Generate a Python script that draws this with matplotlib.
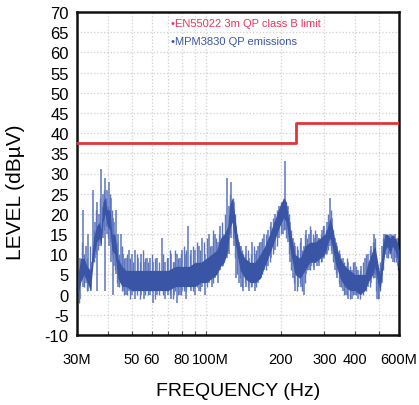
import matplotlib
matplotlib.use("Agg")
import matplotlib.pyplot as plt
import matplotlib.transforms as mtransforms
from matplotlib.ticker import FixedLocator, FixedFormatter, NullFormatter

plt.rcParams['font.family'] = ['Liberation Sans', 'DejaVu Sans']
plt.rcParams['axes.unicode_minus'] = False

# Limit line (EN55022 3m QP class B)
limit_freq = [30, 230, 230, 600]
limit_val = [37.6, 37.6, 42.6, 42.6]

# Dense core band of the emission trace (MHz, low, high)
band_freq = [30.3, 31, 32, 33, 34, 35, 36, 37, 37.5, 38.2, 39, 39.7, 40.8, 41.5, 42.7,
             43.9, 45.6, 47.3, 50, 55, 60, 65, 70, 75, 80, 85, 90, 95, 100, 105, 110,
             114, 118, 122, 124, 127, 130, 133, 137, 143, 150, 157, 165, 172, 180, 190,
             198, 205, 210, 218, 228, 239, 250, 262, 275, 288, 301, 310, 316, 325, 331,
             347, 363, 380, 398, 417, 437, 450, 470, 480, 492, 503, 515, 527, 540, 552,
             565, 578, 590, 600]
band_lo = [0, 3, 5, 3, 1, 9, 13, 14, 12, 18, 20, 17, 16, 11, 10,
           4, 2, 2, 1, 1, 1, 1, 1, 2, 2, 2, 2, 3, 3, 4, 5,
           7, 8, 11, 16, 18, 14, 10, 6, 4, 3, 3, 4, 7, 10, 14,
           17, 19, 18, 11, 5, 4, 6, 8, 8, 9, 10, 13, 14, 11, 8,
           4, 2, 1, 1, 0, 1, 3, 5, 7, 3, 1, 6, 11, 12, 10,
           12, 11, 9, 6]
band_hi = [5, 9, 9, 7, 6, 14, 17, 18, 16, 23, 24, 21, 21, 15, 15,
           9, 7, 6, 6, 6, 6, 6, 6, 7, 7, 7, 8, 8, 9, 10, 11,
           14, 15, 17, 22, 24, 20, 15, 11, 9, 8, 8, 10, 12, 15, 19,
           22, 24, 23, 16, 10, 9, 12, 13, 13, 14, 15, 17, 19, 16, 13,
           9, 7, 6, 5, 5, 5, 8, 11, 12, 8, 5, 12, 15, 15, 14,
           15, 14, 13, 11]

# Larger spikes of the emission trace (MHz, top, bottom)
spike_freq = [30.8, 31.7, 32.5, 33.3, 34.1, 34.8, 35.5, 36.1, 36.8, 37.5, 38.2, 38.9,
              39.7, 40.4, 41.1, 41.8, 42.4, 43.2, 44.0, 45.0, 46.0, 47.3, 48.5, 50,
              51.5, 53, 54.5, 56, 57.5, 59, 61, 63, 66, 68, 70, 72, 74, 76, 78, 80,
              82.5, 84, 87, 90, 93, 96, 99, 102, 105, 108, 111, 114, 117, 121, 123,
              126, 129, 132, 135, 138, 141, 145, 149, 153, 157, 161, 166, 171, 177,
              183, 190, 197, 203, 208, 213, 218, 223, 229, 235, 241, 247, 253, 259,
              265, 272, 279, 286, 293, 300, 307, 315, 322, 330, 338, 346, 355, 365,
              375, 386, 398, 410, 422, 436, 450, 463, 475, 482, 490, 498, 510, 520,
              535, 550, 565, 580, 592]
spike_top = [9, 21, 12, 15, 8, 26, 18, 23, 20, 31, 25, 29,
             26, 28, 24, 19, 18, 21, 15, 15, 10, 9, 11, 10,
             11, 9, 10, 8, 9, 9, 8, 9, 14, 8, 9, 10, 8, 10, 9, 11,
             10, 17, 11, 11, 12, 14, 10, 15, 12, 15, 13, 17, 15, 29, 22,
             28, 23, 17, 13, 12, 10, 12, 9, 13, 10, 12, 13, 15, 16,
             18, 20, 22, 23, 33, 22, 18, 14, 12, 11, 14, 12, 16, 15,
             16, 14, 15, 14, 16, 17, 18, 24, 19, 14, 12, 10, 9, 7,
             8, 6, 8, 6, 7, 9, 10, 12, 15, 13, 6, 3, 12, 15,
             14, 15, 14, 15, 14]
spike_bot = [-1, 2, 3, 1, 1, 8, 9, 1, 12, 12, 14, 1,
             15, 12, 8, 0, 7, 5, 2, 3, 1, 0, 1, 0,
             -1, 1, 0, -1, 1, 0, -2, 0, 1, -1, 0, -1, 0, -2, 0, 1,
             -1, 2, 1, 0, 1, 2, 0, 3, 2, 4, 3, 6, 7, 9, 10,
             14, 12, 4, 3, 2, 1, 2, 1, 2, 1, 3, 4, 6, 7,
             9, 11, 14, 15, 16, 13, 8, 4, 1, 2, 2, 0, 5, 6,
             7, 6, 7, 7, 8, 9, 10, 12, 10, 6, 4, 2, 1, 0,
             -1, -1, 0, -1, 0, 1, 2, 3, 5, 4, -1, -1, 3, 9,
             9, 10, 8, 9, 7]

# Finer spikes between the larger ones (MHz, top, bottom)
fine_freq = [30.5, 31.3, 32.1, 32.9, 33.7, 35.1, 35.8, 36.5, 37.1, 37.8, 38.5, 39.3,
             40.0, 40.7, 41.4, 42.1, 42.8, 43.6, 44.5, 45.5, 46.6, 47.9, 49.2, 50.7,
             52.2, 53.7, 55.2, 56.7, 58.2, 60, 62, 64.5, 67, 69, 71, 73, 75, 77, 79,
             81, 83, 85.5, 88.5, 91.5, 94.5, 97.5, 100.5, 103.5, 106.5, 109.5, 112.5,
             115.5, 119, 124.5, 127.5, 130.5, 133.5, 136.5, 139.5, 143, 147, 151, 155,
             159, 163.5, 168.5, 174, 180, 186.5, 193.5, 200, 205.5, 210.5, 215.5,
             220.5, 226, 232, 238, 244, 250, 256, 262, 268.5, 275.5, 282.5, 289.5,
             296.5, 303.5, 311, 318.5, 326, 334, 342, 350.5, 360, 370, 380.5, 392,
             404, 416, 429, 443, 456.5, 469, 478.5, 486, 494, 504, 515, 527.5, 542.5,
             557.5, 572.5, 586, 597]
fine_top = [6, 13, 10, 9, 12, 16, 21, 17, 24, 22, 26, 24,
            22, 25, 21, 16, 14, 13, 10, 12, 9, 10, 9, 8,
            10, 8, 11, 9, 8, 10, 9, 8, 10, 9, 11, 8, 11, 9, 10,
            12, 11, 10, 12, 13, 11, 13, 14, 12, 16, 14, 15,
            18, 20, 25, 24, 20, 15, 12, 11, 10, 11, 10, 12,
            11, 13, 14, 15, 17, 19, 21, 23, 24, 23, 20,
            16, 13, 12, 13, 11, 15, 14, 17, 15, 16, 14, 15,
            17, 16, 20, 21, 16, 13, 11, 9, 8, 9, 7, 8,
            7, 6, 8, 10, 11, 13, 14, 9, 5, 8, 14, 15, 14,
            15, 13, 14, 12]
fine_bot = [-2, 4, 2, 1, 2, 8, 10, 11, 13, 15, 16, 17,
            14, 13, 10, 9, 6, 3, 2, 1, 0, 0, -1, 1,
            0, -1, 1, 0, 0, 1, -1, 0, 0, 1, 0, -1, 1, 0, 0,
            1, 1, 2, 1, 2, 1, 3, 2, 4, 3, 5, 6,
            7, 9, 15, 14, 9, 5, 4, 2, 3, 2, 2, 3,
            2, 4, 5, 6, 8, 10, 12, 15, 16, 14, 10,
            6, 3, 1, 3, 1, 3, 6, 6, 7, 8, 8, 8,
            9, 10, 11, 11, 8, 5, 3, 2, 0, 0, -1, 0,
            0, -1, 0, 1, 2, 4, 5, 1, -1, 1, 6, 10, 9,
            9, 8, 8, 6]

# Axis ticks
xtick_vals = [30, 40, 50, 60, 70, 80, 90, 100, 200, 300, 400, 500, 600]
xtick_labels = ['30M', '', '50', '60', '', '80', '', '100M', '200', '300', '400', '', '600M']
ytick_vals = list(range(-10, 75, 5))

blue = '#3a55a6'
blue_light = '#5d76bd'

fig = plt.figure(figsize=(4.19, 4.06), dpi=100)
ax = fig.add_axes([77/419, 70/406, 322/419, 323/406])

ax.set_xscale('log')
ax.set_xlim(30, 600)
ax.set_ylim(-10, 70)

ax.fill_between(band_freq, band_lo, band_hi, color=blue, lw=0, zorder=3)
ax.vlines(spike_freq, spike_bot, spike_top, color=blue_light, lw=1.1, zorder=2)
ax.vlines(fine_freq, fine_bot, fine_top, color=blue_light, lw=1.0, zorder=2)
ax.plot(limit_freq, limit_val, color='#e0353a', lw=2.0, zorder=4)

ax.xaxis.set_major_locator(FixedLocator(xtick_vals))
ax.xaxis.set_major_formatter(FixedFormatter(xtick_labels))
ax.xaxis.set_minor_formatter(NullFormatter())
ax.xaxis.set_minor_locator(FixedLocator([]))
ax.set_yticks(ytick_vals)

ax.tick_params(axis='x', direction='in', length=3, width=0.8, pad=12, labelsize=10.5, color='#555555')
ax.tick_params(axis='y', length=0, pad=6, labelsize=12)

# nudge the tightly packed "80" and "100M" labels apart, as in the original
for lbl in ax.get_xticklabels():
    if lbl.get_text() == '100M':
        lbl.set_transform(lbl.get_transform() + mtransforms.ScaledTranslation(4/100, 0, fig.dpi_scale_trans))
    if lbl.get_text() == '80':
        lbl.set_transform(lbl.get_transform() + mtransforms.ScaledTranslation(-1/100, 0, fig.dpi_scale_trans))

ax.grid(True, which='major', color='#cfcfcf', linestyle=':', linewidth=0.9)
for s in ax.spines.values():
    s.set_linewidth(1.8)
    s.set_color('#111111')

ax.set_xlabel('FREQUENCY (Hz)', fontsize=14)
ax.xaxis.set_label_coords(0.5, -0.145)
ax.set_ylabel('LEVEL (dBµV)', fontsize=15)
ax.yaxis.set_label_coords(-0.16, 0.445)

ax.text(0.292, 0.966, '•EN55022 3m QP class B limit', transform=ax.transAxes,
        color='#e8365e', fontsize=8, va='center', ha='left',
        family=['Liberation Sans Narrow', 'Liberation Sans'])
ax.text(0.292, 0.910, '•MPM3830 QP emissions', transform=ax.transAxes,
        color='#3a55a5', fontsize=8, va='center', ha='left',
        family=['Liberation Sans Narrow', 'Liberation Sans'])

fig.savefig('out.png', dpi=100)
